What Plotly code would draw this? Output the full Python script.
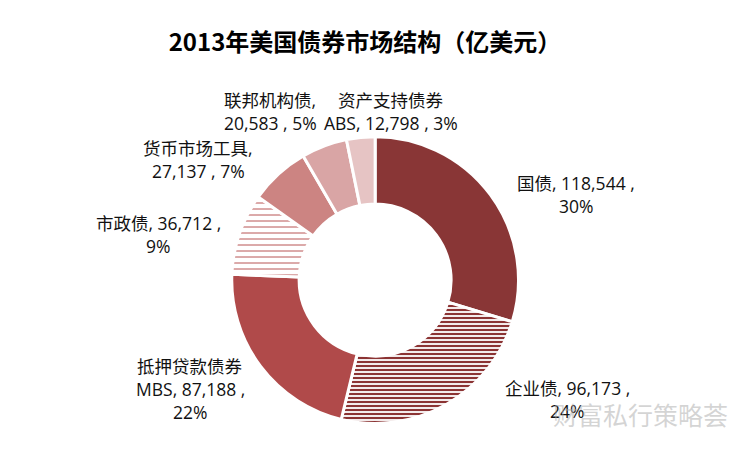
import plotly.graph_objects as go

# 2013 US bond market structure (100 million USD)
categories = ["国债", "企业债", "抵押贷款债券MBS", "市政债", "货币市场工具", "联邦机构债", "资产支持债券ABS"]
values = [118544, 96173, 87188, 36712, 27137, 20583, 12798]
pcts = ["30%", "24%", "22%", "9%", "7%", "5%", "3%"]
label_lines = [
    ["国债, 118,544 ,", "30%"],
    ["企业债, 96,173 ,", "24%"],
    ["抵押贷款债券", "MBS, 87,188 ,", "22%"],
    ["市政债, 36,712 ,", "9%"],
    ["货币市场工具,", "27,137 , 7%"],
    ["联邦机构债,", "20,583 , 5%"],
    ["资产支持债券", "ABS, 12,798 , 3%"],
]

colors = ["#893636", "#8B3333", "#B04A4A", "#B04040", "#CC8482", "#D9A5A5", "#E6C4C4"]
shapes = ["", "-", "", "-", "", "", ""]
fg = ["#893636", "#8B3333", "#B04A4A", "#B04040", "#CC8482", "#D9A5A5", "#E6C4C4"]
bg = ["#893636", "white", "#B04A4A", "white", "#CC8482", "#D9A5A5", "#E6C4C4"]
solid = [1, 0.55, 1, 0.15, 1, 1, 1]
psize = [4, 4, 4, 6, 4, 4, 4]

fig = go.Figure(go.Pie(
    labels=categories,
    values=values,
    hole=0.53,
    sort=False,
    direction="clockwise",
    rotation=0,
    textinfo="none",
    marker=dict(
        colors=colors,
        line=dict(color="white", width=3),
        pattern=dict(shape=shapes, fgcolor=fg, bgcolor=bg,
                     solidity=solid, size=psize, fillmode="replace"),
    ),
    domain=dict(x=[0, 0.979], y=[0.083, 0.716]),
    showlegend=False,
))

# label anchor positions (pixel centres of the first line, page offset included)
label_pos = [(568, 175), (559, 380), (182, 358), (150, 215), (190, 140), (262, 92), (383, 92)]
W, H = 750, 453
for lines, (px, py) in zip(label_lines, label_pos):
    for i, t in enumerate(lines):
        fig.add_annotation(
            x=px / W, y=1 - (py + i * 23) / H, xref="paper", yref="paper",
            text=t, showarrow=False, xanchor="center", yanchor="middle",
            font=dict(size=17.5, color="#111111"),
        )

# watermark
fig.add_annotation(x=632 / W, y=1 - 407 / H, xref="paper", yref="paper",
                   text="财富私行策略荟", showarrow=False, xanchor="center", yanchor="middle",
                   font=dict(size=25, color="rgba(170,170,170,0.5)"))

fig.update_layout(
    width=W, height=H,
    margin=dict(l=0, r=0, t=0, b=0),
    paper_bgcolor="white",
    font=dict(family="Open Sans, Noto Sans CJK SC, sans-serif"),
    title=dict(text="<b>2013年美国债券市场结构（亿美元）</b>", x=0.476, y=1 - 35 / H,
               xanchor="center", yanchor="middle",
               font=dict(size=24, color="black", family="Noto Sans CJK SC")),
)

fig.write_html("out.html")
